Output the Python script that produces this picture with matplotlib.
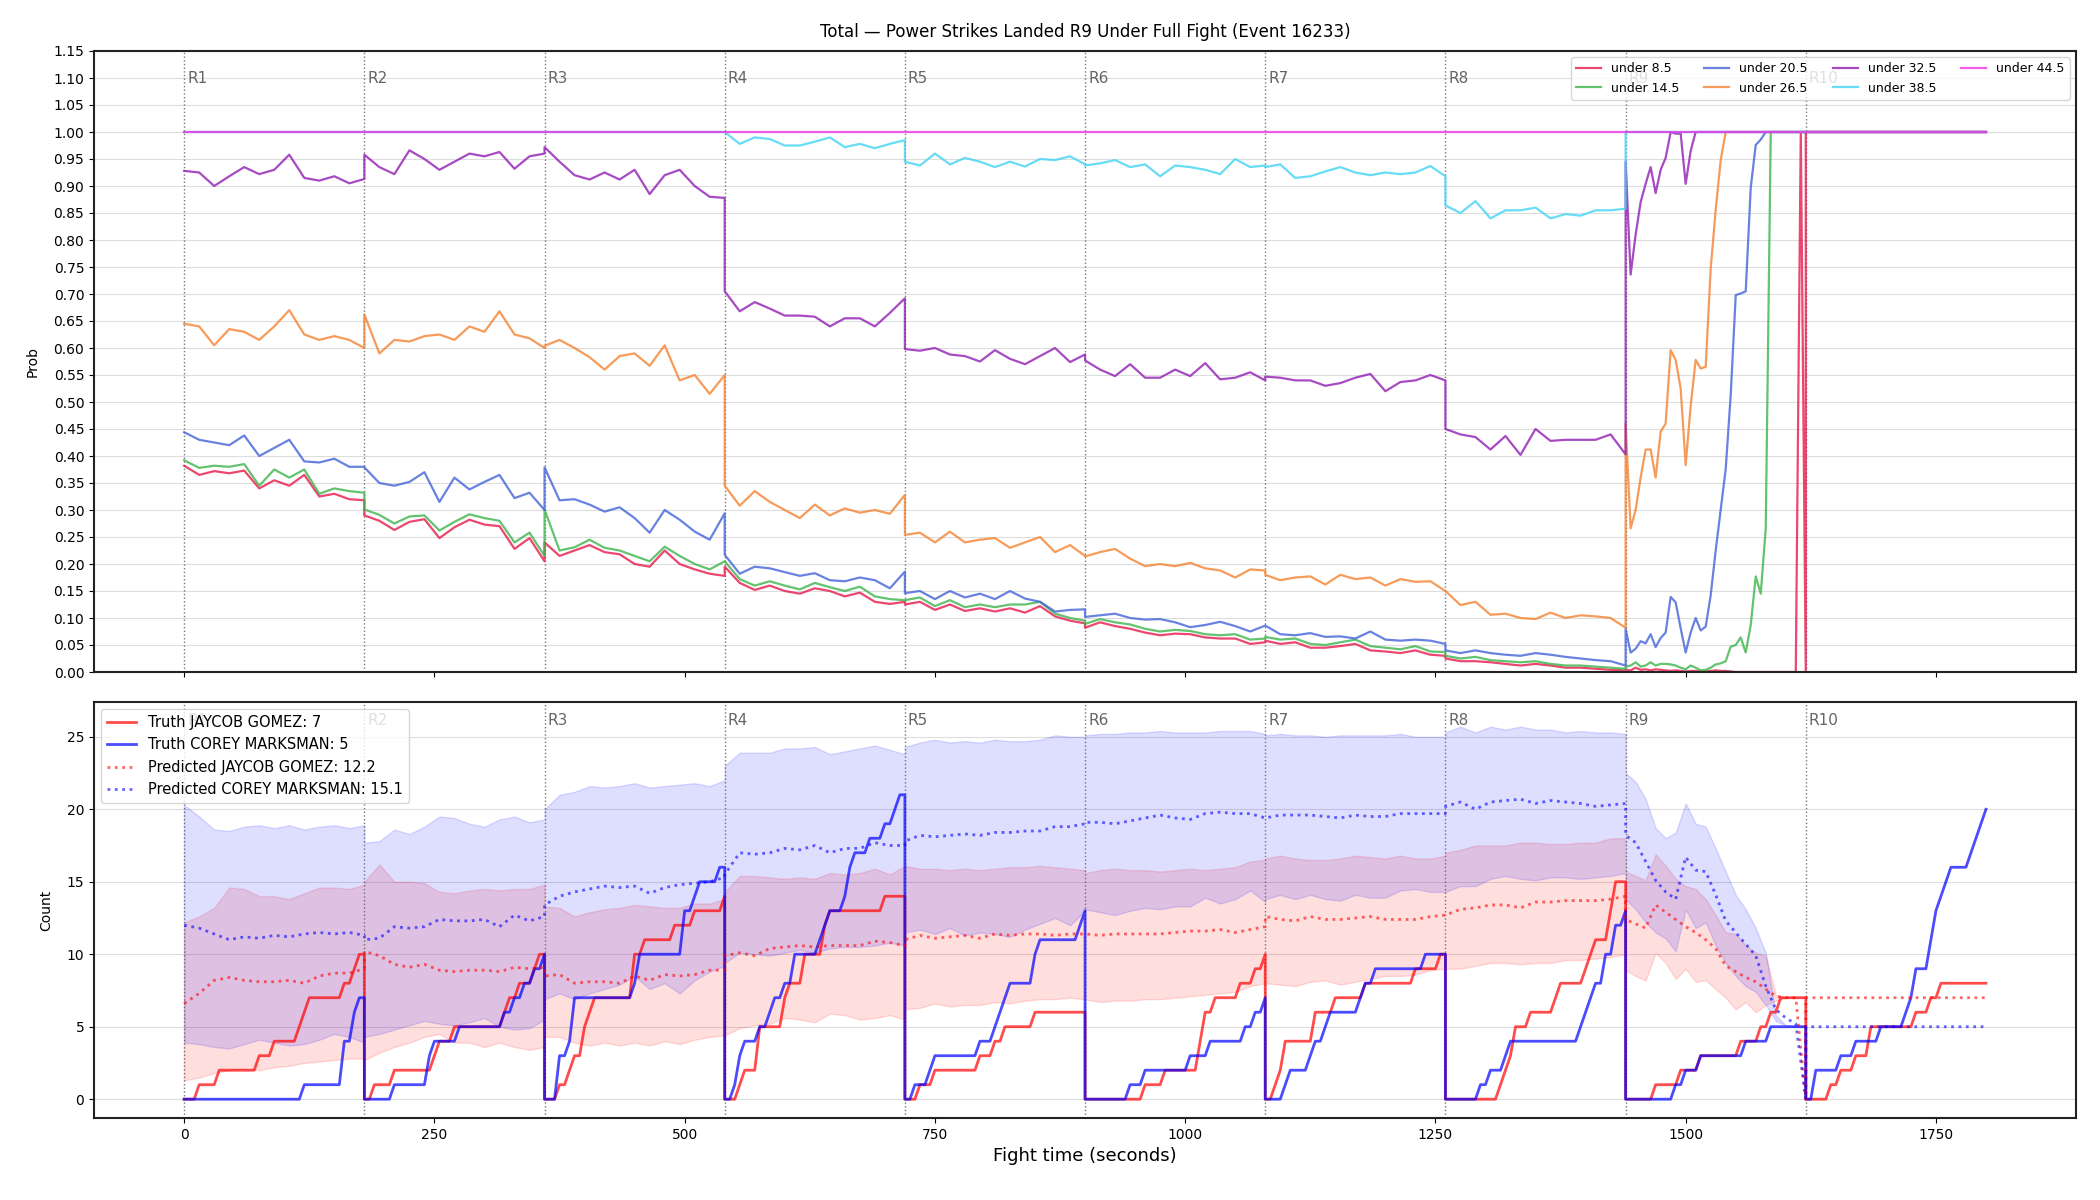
import matplotlib
matplotlib.use("Agg")
import matplotlib.pyplot as plt
import matplotlib.transforms as mtransforms
import numpy as np

## 数据
ROUND_LEN = 180
round_starts = [0, 180, 360, 540, 720, 900, 1080, 1260, 1440, 1620]
round_names = ["R1", "R2", "R3", "R4", "R5", "R6", "R7", "R8", "R9", "R10"]

title = "Total — Power Strikes Landed R9 Under Full Fight (Event 16233)"

# 上图：各阈值概率，每回合一个列表（样本在回合内均匀分布）
line_names = ["under 8.5", "under 14.5", "under 20.5", "under 26.5",
              "under 32.5", "under 38.5", "under 44.5"]
line_colors = ["#e6194b", "#3cb44b", "#4363d8", "#f58231",
               "#911eb4", "#42d4f4", "#f032e6"]

p_085 = [
    [0.382, 0.365, 0.372, 0.368, 0.373, 0.340, 0.355, 0.345, 0.365, 0.325, 0.330, 0.320, 0.318],
    [0.290, 0.280, 0.263, 0.278, 0.283, 0.248, 0.268, 0.282, 0.273, 0.270, 0.228, 0.248, 0.205],
    [0.240, 0.215, 0.225, 0.235, 0.222, 0.218, 0.200, 0.195, 0.225, 0.200, 0.190, 0.182, 0.178],
    [0.195, 0.165, 0.152, 0.160, 0.150, 0.145, 0.155, 0.150, 0.140, 0.147, 0.130, 0.126, 0.130],
    [0.125, 0.130, 0.115, 0.125, 0.113, 0.118, 0.112, 0.118, 0.110, 0.122, 0.103, 0.095, 0.090],
    [0.082, 0.092, 0.085, 0.080, 0.073, 0.068, 0.071, 0.070, 0.064, 0.062, 0.062, 0.052, 0.055],
    [0.058, 0.052, 0.055, 0.045, 0.045, 0.048, 0.052, 0.040, 0.038, 0.035, 0.040, 0.032, 0.030],
    [0.025, 0.020, 0.020, 0.018, 0.015, 0.012, 0.015, 0.012, 0.008, 0.008, 0.006, 0.004, 0.003],
    [0.004, 0.003, 0.008, 0.004, 0.005, 0.003, 0.005, 0.004, 0.003, 0.002, 0.003, 0.002, 0.001,
     0.002, 0.002, 0.001, 0.001, 0.002, 0.003, 0.002, 0.002, 0.001, 0.0, 0.0, 0.0, 0.0, 0.0,
     0.0, 0.0, 0.0, 0.0, 0.0, 0.0, 0.0, 0.0, 1.0, 0.0],
    [1.0, 1.0],
]
p_145 = [
    [0.392, 0.378, 0.382, 0.380, 0.385, 0.345, 0.375, 0.360, 0.375, 0.330, 0.340, 0.335, 0.332],
    [0.301, 0.291, 0.275, 0.288, 0.290, 0.262, 0.278, 0.292, 0.285, 0.280, 0.240, 0.258, 0.215],
    [0.301, 0.225, 0.231, 0.245, 0.230, 0.225, 0.215, 0.205, 0.232, 0.215, 0.200, 0.190, 0.205],
    [0.205, 0.172, 0.160, 0.168, 0.160, 0.153, 0.165, 0.157, 0.150, 0.158, 0.140, 0.135, 0.133],
    [0.133, 0.138, 0.122, 0.133, 0.120, 0.125, 0.120, 0.125, 0.125, 0.130, 0.108, 0.100, 0.095],
    [0.089, 0.098, 0.092, 0.088, 0.080, 0.075, 0.078, 0.076, 0.070, 0.068, 0.070, 0.060, 0.062],
    [0.065, 0.060, 0.062, 0.052, 0.050, 0.055, 0.060, 0.048, 0.045, 0.042, 0.048, 0.038, 0.037],
    [0.030, 0.025, 0.028, 0.022, 0.020, 0.018, 0.020, 0.015, 0.012, 0.012, 0.010, 0.008, 0.006],
    [0.010, 0.012, 0.018, 0.010, 0.012, 0.018, 0.012, 0.015, 0.015, 0.014, 0.012, 0.008, 0.005,
     0.012, 0.008, 0.003, 0.004, 0.008, 0.014, 0.016, 0.020, 0.047, 0.050, 0.064, 0.036, 0.087,
     0.177, 0.145, 0.266] + [1.0] * 8,
    [1.0, 1.0],
]
p_205 = [
    [0.444, 0.430, 0.425, 0.420, 0.438, 0.400, 0.415, 0.430, 0.390, 0.388, 0.395, 0.380, 0.380],
    [0.379, 0.350, 0.345, 0.352, 0.370, 0.315, 0.360, 0.338, 0.352, 0.365, 0.322, 0.332, 0.300],
    [0.379, 0.318, 0.320, 0.310, 0.297, 0.305, 0.285, 0.258, 0.300, 0.282, 0.260, 0.245, 0.294],
    [0.217, 0.182, 0.195, 0.192, 0.185, 0.178, 0.183, 0.170, 0.168, 0.175, 0.170, 0.155, 0.186],
    [0.146, 0.150, 0.135, 0.150, 0.138, 0.145, 0.135, 0.150, 0.136, 0.130, 0.112, 0.115, 0.116],
    [0.102, 0.105, 0.108, 0.100, 0.097, 0.098, 0.092, 0.083, 0.087, 0.093, 0.085, 0.075, 0.086],
    [0.086, 0.070, 0.068, 0.072, 0.065, 0.066, 0.062, 0.075, 0.060, 0.058, 0.060, 0.058, 0.052],
    [0.040, 0.035, 0.040, 0.035, 0.032, 0.030, 0.035, 0.032, 0.028, 0.025, 0.022, 0.020, 0.012],
    [0.080, 0.036, 0.043, 0.057, 0.053, 0.070, 0.046, 0.063, 0.073, 0.139, 0.129, 0.081, 0.036,
     0.073, 0.100, 0.077, 0.084, 0.142, 0.225, 0.300, 0.376, 0.513, 0.698, 0.701, 0.705, 0.897,
     0.976, 0.986] + [1.0] * 9,
    [1.0, 1.0],
]
p_265 = [
    [0.645, 0.640, 0.605, 0.635, 0.630, 0.615, 0.640, 0.670, 0.625, 0.615, 0.622, 0.615, 0.600],
    [0.662, 0.590, 0.615, 0.612, 0.622, 0.625, 0.615, 0.640, 0.630, 0.668, 0.625, 0.618, 0.600],
    [0.604, 0.615, 0.600, 0.583, 0.560, 0.585, 0.590, 0.567, 0.605, 0.540, 0.550, 0.515, 0.550],
    [0.345, 0.308, 0.335, 0.315, 0.300, 0.285, 0.310, 0.290, 0.303, 0.295, 0.300, 0.293, 0.328],
    [0.254, 0.258, 0.240, 0.260, 0.240, 0.245, 0.248, 0.230, 0.240, 0.250, 0.222, 0.235, 0.215],
    [0.214, 0.222, 0.228, 0.210, 0.196, 0.200, 0.196, 0.202, 0.192, 0.188, 0.175, 0.190, 0.188],
    [0.180, 0.170, 0.175, 0.177, 0.162, 0.180, 0.172, 0.175, 0.160, 0.172, 0.167, 0.168, 0.150],
    [0.150, 0.124, 0.130, 0.106, 0.108, 0.100, 0.098, 0.110, 0.100, 0.105, 0.103, 0.100, 0.082],
    [0.460, 0.266, 0.300, 0.360, 0.412, 0.412, 0.360, 0.445, 0.460, 0.596, 0.578, 0.525, 0.383,
     0.493, 0.578, 0.562, 0.565, 0.747, 0.856, 0.948] + [1.0] * 17,
    [1.0, 1.0],
]
p_325 = [
    [0.928, 0.925, 0.900, 0.918, 0.935, 0.922, 0.930, 0.958, 0.915, 0.910, 0.918, 0.905, 0.913],
    [0.958, 0.935, 0.922, 0.966, 0.950, 0.930, 0.945, 0.960, 0.955, 0.963, 0.932, 0.955, 0.960],
    [0.972, 0.945, 0.920, 0.912, 0.925, 0.912, 0.930, 0.885, 0.920, 0.930, 0.900, 0.880, 0.878],
    [0.705, 0.668, 0.685, 0.673, 0.660, 0.660, 0.658, 0.640, 0.655, 0.655, 0.640, 0.665, 0.692],
    [0.598, 0.595, 0.600, 0.588, 0.585, 0.575, 0.596, 0.580, 0.570, 0.585, 0.600, 0.574, 0.588],
    [0.577, 0.560, 0.548, 0.570, 0.545, 0.545, 0.560, 0.548, 0.572, 0.542, 0.545, 0.555, 0.540],
    [0.547, 0.545, 0.540, 0.540, 0.530, 0.535, 0.545, 0.552, 0.520, 0.537, 0.540, 0.550, 0.540],
    [0.450, 0.440, 0.435, 0.412, 0.437, 0.402, 0.450, 0.428, 0.430, 0.430, 0.430, 0.440, 0.403],
    [0.945, 0.736, 0.810, 0.870, 0.904, 0.935, 0.887, 0.930, 0.952, 1.0, 0.997, 0.997, 0.904,
     0.965] + [1.0] * 23,
    [1.0, 1.0],
]
p_385 = [
    [1.0, 1.0],
    [1.0, 1.0],
    [1.0, 1.0],
    [1.0, 0.978, 0.990, 0.987, 0.975, 0.975, 0.982, 0.990, 0.972, 0.978, 0.970, 0.978, 0.985],
    [0.945, 0.938, 0.960, 0.940, 0.952, 0.945, 0.935, 0.945, 0.936, 0.950, 0.948, 0.955, 0.940],
    [0.938, 0.942, 0.948, 0.935, 0.940, 0.918, 0.938, 0.935, 0.930, 0.922, 0.950, 0.935, 0.938],
    [0.935, 0.940, 0.915, 0.918, 0.927, 0.935, 0.925, 0.920, 0.925, 0.922, 0.925, 0.937, 0.918],
    [0.864, 0.850, 0.872, 0.840, 0.855, 0.855, 0.860, 0.840, 0.848, 0.845, 0.855, 0.855, 0.858],
    [1.0, 1.0],
    [1.0, 1.0],
]
p_445 = [[1.0, 1.0]] * 10

prob_series = [p_085, p_145, p_205, p_265, p_325, p_385, p_445]

# 下图：真实计数（每回合内每次命中的秒数）
fighter_names = ["JAYCOB GOMEZ", "COREY MARKSMAN"]
truth_final = [7, 5]
pred_final = [12.2, 15.1]

hits_red = [
    [12, 33, 72, 88, 115, 120, 124, 160, 168, 172],
    [8, 27, 66, 74, 88, 138, 145, 155, 168, 172],
    [15, 25, 29, 36, 40, 44, 49, 86, 88, 90, 98, 130, 149, 178],
    [12, 20, 31, 33, 35, 56, 60, 64, 77, 80, 96, 98, 101, 158],
    [15, 28, 73, 88, 97, 128],
    [56, 78, 111, 114, 117, 120, 130, 153, 170, 178],
    [9, 14, 17, 20, 48, 50, 69, 99, 148, 175],
    [55, 58, 62, 66, 70, 84, 110, 115, 139, 142, 148, 162, 164, 166, 170],
    [28, 53, 73, 113, 133, 143, 155],
    [22, 32, 48, 63, 65, 107, 122, 133],
]
hits_blue = [
    [120, 157, 158, 160, 166, 170, 174],
    [28, 62, 65, 68, 94, 140, 148, 160, 168, 178],
    [11, 13, 15, 25, 27, 28, 29, 88, 91, 94, 138, 139, 140, 147, 153, 174],
    [8, 11, 15, 19, 34, 43, 46, 58, 66, 68, 94, 96, 105, 120, 122, 125, 129, 144, 158, 170, 172],
    [6, 21, 29, 71, 88, 93, 98, 104, 128, 130, 135, 175, 178],
    [43, 56, 102, 123, 160, 170, 178],
    [19, 24, 44, 49, 58, 64, 95, 100, 109, 160],
    [33, 45, 60, 64, 132, 138, 143, 149, 156, 160, 166, 170, 178],
    [49, 58, 75, 120, 145],
    [7, 9, 33, 47, 73, 98, 103, 106, 108, 123, 124, 128, 130, 133, 138, 142, 164, 169, 174, 178],
]

# 预测值
pred_red = [
    [6.6, 7.3, 8.2, 8.4, 8.2, 8.1, 8.1, 8.2, 8.0, 8.5, 8.7, 8.7, 9.0],
    [10.2, 9.9, 9.3, 9.1, 9.3, 8.9, 8.8, 8.9, 8.9, 8.8, 9.1, 9.0, 9.1],
    [8.5, 8.6, 8.0, 8.1, 8.1, 8.0, 8.5, 8.2, 8.6, 8.5, 8.6, 8.9, 8.9],
    [9.9, 10.1, 9.9, 10.4, 10.5, 10.6, 10.5, 10.6, 10.6, 10.6, 10.9, 10.8, 10.6],
    [11.0, 11.3, 11.1, 11.2, 11.3, 11.1, 11.4, 11.3, 11.4, 11.4, 11.3, 11.4, 11.4],
    [11.4, 11.3, 11.4, 11.4, 11.4, 11.4, 11.5, 11.6, 11.6, 11.7, 11.5, 11.7, 11.9],
    [12.6, 12.4, 12.3, 12.6, 12.4, 12.4, 12.5, 12.6, 12.4, 12.4, 12.4, 12.6, 12.7],
    [12.7, 13.1, 13.2, 13.4, 13.4, 13.2, 13.6, 13.6, 13.7, 13.7, 13.7, 13.8, 14.0],
    [12.4, 12.1, 11.8, 13.4, 12.9, 12.4, 11.9, 11.5, 11.0, 10.4, 9.2, 8.8, 8.4, 8.1, 7.6,
     7.1, 7.0, 7.0, 0.0],
    [7.0, 7.0],
]
pred_blue = [
    [12.0, 11.8, 11.4, 11.0, 11.2, 11.1, 11.3, 11.2, 11.4, 11.5, 11.4, 11.5, 11.3],
    [11.0, 11.1, 11.9, 11.8, 11.9, 12.4, 12.3, 12.3, 12.4, 11.9, 12.7, 12.3, 12.6],
    [13.4, 14.0, 14.3, 14.5, 14.7, 14.6, 14.7, 14.2, 14.6, 14.8, 14.9, 15.0, 15.3],
    [15.5, 17.0, 16.9, 17.0, 17.3, 17.2, 17.5, 17.0, 17.3, 17.3, 17.7, 17.5, 17.5],
    [17.8, 18.2, 18.1, 18.2, 18.3, 18.2, 18.4, 18.4, 18.5, 18.5, 18.8, 18.8, 19.0],
    [19.1, 19.1, 19.0, 19.2, 19.4, 19.6, 19.4, 19.3, 19.7, 19.8, 19.7, 19.7, 19.4],
    [19.4, 19.6, 19.6, 19.6, 19.5, 19.4, 19.6, 19.5, 19.5, 19.7, 19.7, 19.7, 19.7],
    [20.2, 20.5, 20.0, 20.5, 20.6, 20.7, 20.4, 20.6, 20.5, 20.4, 20.2, 20.3, 20.4],
    [18.2, 17.7, 16.4, 15.1, 14.3, 13.8, 16.7, 15.8, 15.7, 14.1, 12.3, 11.5, 10.7, 9.9, 7.8,
     6.2, 5.6, 5.2, 0.0],
    [5.0, 5.0],
]

# 区间带（R1-R9）
red_hi = [
    [12.2, 12.6, 13.2, 14.6, 14.5, 14.0, 14.0, 13.8, 14.2, 14.6, 14.6, 14.5, 14.8],
    [15.0, 16.2, 15.0, 15.0, 14.9, 14.3, 14.2, 14.4, 14.5, 14.4, 14.5, 14.5, 14.8],
    [13.3, 13.2, 12.6, 12.9, 13.1, 13.2, 13.4, 13.3, 13.2, 13.2, 13.5, 13.5, 13.8],
    [14.3, 15.4, 15.4, 15.3, 15.2, 15.3, 15.2, 15.6, 15.5, 15.6, 15.9, 15.5, 16.1],
    [16.1, 15.9, 15.9, 15.8, 15.9, 15.8, 15.9, 16.0, 16.0, 16.1, 16.0, 15.9, 15.8],
    [15.6, 15.8, 15.9, 15.8, 15.8, 15.7, 15.8, 15.9, 15.8, 15.9, 16.0, 16.4, 16.5],
    [16.6, 16.8, 16.6, 16.5, 16.5, 16.6, 16.8, 16.7, 16.6, 16.8, 16.6, 16.6, 16.8],
    [17.0, 17.2, 17.5, 17.5, 17.5, 17.7, 17.7, 17.6, 17.6, 17.7, 17.7, 18.0, 18.0],
    [15.7, 15.4, 15.1, 16.9, 16.1, 15.2, 14.7, 14.5, 13.8, 12.7, 11.5, 11.4, 10.6, 10.1, 9.9,
     7.2, 7.0, 7.0, 7.0],
]
red_lo = [
    [1.3, 1.5, 1.8, 2.0, 2.1, 2.0, 2.2, 2.3, 2.5, 2.6, 2.7, 2.8, 2.8],
    [2.7, 3.2, 3.6, 3.9, 4.3, 4.5, 3.9, 3.9, 3.6, 3.9, 3.6, 3.4, 3.6],
    [4.3, 4.3, 3.9, 3.7, 3.9, 3.7, 3.9, 3.7, 4.0, 3.8, 4.1, 4.3, 4.4],
    [4.4, 4.9, 5.1, 5.2, 5.6, 5.5, 5.3, 5.9, 5.8, 5.5, 5.6, 5.8, 5.5],
    [6.2, 6.3, 6.6, 6.4, 6.5, 6.5, 6.7, 6.6, 6.8, 6.9, 6.9, 7.0, 6.9],
    [6.9, 6.7, 6.8, 6.8, 6.9, 6.9, 7.0, 7.1, 7.2, 7.3, 7.4, 7.8, 8.0],
    [8.0, 7.9, 7.8, 8.1, 8.2, 7.9, 8.1, 8.3, 8.5, 8.5, 8.6, 8.9, 9.0],
    [9.0, 9.0, 9.2, 9.4, 9.4, 9.3, 9.4, 9.4, 9.6, 9.6, 9.7, 9.8, 10.0],
    [8.9, 8.5, 8.2, 10.1, 9.4, 8.3, 9.0, 8.1, 8.2, 7.6, 7.0, 6.2, 6.7, 6.0, 6.5, 6.8, 7.0,
     7.0, 7.0],
]
blue_hi = [
    [20.3, 19.5, 18.6, 18.5, 18.8, 18.9, 18.7, 18.9, 18.6, 18.8, 18.9, 18.7, 18.9],
    [17.7, 17.8, 18.6, 18.3, 18.8, 19.5, 19.4, 19.0, 18.8, 19.3, 19.5, 19.1, 19.3],
    [20.0, 21.0, 21.2, 21.6, 21.5, 21.6, 21.8, 21.5, 21.6, 21.7, 21.8, 21.6, 22.0],
    [23.0, 23.9, 23.9, 23.9, 24.2, 24.2, 24.3, 23.8, 24.0, 24.2, 24.4, 24.1, 23.8],
    [24.3, 24.6, 24.8, 24.6, 24.7, 24.6, 24.8, 24.7, 24.7, 24.8, 25.1, 25.0, 25.0],
    [25.1, 25.2, 25.2, 25.3, 25.3, 25.4, 25.3, 25.3, 25.3, 25.4, 25.4, 25.4, 25.2],
    [25.1, 25.2, 25.1, 25.1, 25.0, 25.1, 25.1, 25.1, 25.1, 25.2, 25.0, 25.0, 25.0],
    [25.3, 25.7, 25.3, 25.7, 25.5, 25.7, 25.5, 25.5, 25.3, 25.4, 25.3, 25.3, 25.2],
    [22.5, 21.9, 20.7, 18.7, 18.0, 18.4, 20.4, 19.0, 18.8, 17.3, 15.7, 14.1, 13.1, 11.8, 10.1,
     5.8, 5.1, 5.0, 5.0],
]
blue_lo = [
    [3.9, 3.8, 3.6, 3.5, 3.8, 4.1, 3.9, 3.7, 3.8, 4.1, 4.5, 4.3, 3.9],
    [4.3, 4.5, 4.8, 5.1, 5.4, 5.2, 5.1, 5.3, 5.6, 5.0, 4.8, 4.9, 5.5],
    [6.9, 7.3, 6.9, 7.3, 7.6, 7.9, 8.5, 7.6, 8.0, 7.3, 8.2, 8.8, 9.2],
    [9.4, 10.1, 10.0, 9.9, 10.1, 10.3, 10.1, 10.4, 10.5, 10.5, 10.6, 10.8, 10.6],
    [11.5, 11.7, 11.4, 11.8, 11.3, 11.5, 11.4, 11.2, 11.7, 12.1, 12.5, 12.0, 13.0],
    [13.1, 12.9, 12.7, 13.0, 13.2, 13.1, 13.3, 13.3, 13.9, 13.5, 13.8, 14.4, 13.6],
    [13.8, 14.1, 13.8, 14.1, 13.8, 13.7, 14.1, 13.9, 13.9, 14.4, 14.5, 14.3, 14.3],
    [14.3, 14.7, 14.7, 15.2, 15.4, 15.2, 15.1, 15.3, 15.3, 15.2, 15.3, 15.4, 15.6],
    [13.8, 13.1, 12.2, 11.5, 11.1, 10.2, 13.1, 11.8, 12.2, 10.6, 9.4, 8.5, 7.8, 7.4, 6.5, 5.4,
     5.1, 5.0, 5.0],
]


def stitch(rounds):
    # 每回合的样本均匀铺在回合时间内，回合边界处形成竖直跳变
    xs, ys = [], []
    for start, vals in zip(round_starts, rounds):
        xs.extend(np.linspace(start, start + ROUND_LEN, len(vals)))
        ys.extend(vals)
    return np.array(xs), np.array(ys)


def truth_curve(rounds):
    # 每 5 秒采样一次累计命中数
    xs, ys = [], []
    grid = np.arange(0, ROUND_LEN + 1, 5)
    for start, hits in zip(round_starts, rounds):
        hits = np.array(hits)
        xs.extend(start + grid)
        ys.extend([(hits <= g).sum() for g in grid])
    return np.array(xs), np.array(ys)


fig = plt.figure(figsize=(21, 12), dpi=100)
ax1 = fig.add_axes([0.0448, 0.44, 0.9438, 0.5175])
ax2 = fig.add_axes([0.0448, 0.0683, 0.9438, 0.3467], sharex=ax1)

## 上图 概率
for name, color, rounds in zip(line_names, line_colors, prob_series):
    x, y = stitch(rounds)
    ax1.plot(x, y, color=color, lw=1.6, alpha=0.8, label=name)

ax1.set_ylim(0, 1.15)
ax1.set_yticks(np.arange(0, 1.151, 0.05))
ax1.set_yticklabels(["%.2f" % v for v in np.arange(0, 1.151, 0.05)])
ax1.set_ylabel("Prob", labelpad=10)
ax1.set_title(title, fontsize=12, pad=10)
ax1.legend(loc="upper right", ncol=4, fontsize=9, framealpha=0.8)
plt.setp(ax1.get_xticklabels(), visible=False)

## 下图 计数
red, blue = "#ff0000", "#0000ff"
xb, rh = stitch(red_hi)
_, rl = stitch(red_lo)
_, bh = stitch(blue_hi)
_, bl = stitch(blue_lo)
ax2.fill_between(xb, rl, rh, color=red, alpha=0.13, lw=1)
ax2.fill_between(xb, bl, bh, color=blue, alpha=0.13, lw=1)

xr, yr = truth_curve(hits_red)
xbl, ybl = truth_curve(hits_blue)
ax2.plot(xr, yr, color=red, lw=2, alpha=0.7,
         label="Truth %s: %d" % (fighter_names[0], truth_final[0]))
ax2.plot(xbl, ybl, color=blue, lw=2, alpha=0.7,
         label="Truth %s: %d" % (fighter_names[1], truth_final[1]))

xp, yp = stitch(pred_red)
ax2.plot(xp, yp, color=red, lw=2, ls=":", alpha=0.6,
         label="Predicted %s: %.1f" % (fighter_names[0], pred_final[0]))
xp, yp = stitch(pred_blue)
ax2.plot(xp, yp, color=blue, lw=2, ls=":", alpha=0.6,
         label="Predicted %s: %.1f" % (fighter_names[1], pred_final[1]))

ax2.set_ylim(-1.3, 27.4)
ax2.set_yticks([0, 5, 10, 15, 20, 25])
ax2.set_ylabel("Count", labelpad=10)
ax2.set_xlabel("Fight time (seconds)", fontsize=13)
ax2.legend(loc="upper left", fontsize=10.5, framealpha=0.8)
ax2.set_xlim(-90, 1890)

# 回合分隔线和标签
for ax in (ax1, ax2):
    trans = mtransforms.blended_transform_factory(ax.transData, ax.transAxes)
    for start, name in zip(round_starts, round_names):
        ax.axvline(start, color="#555555", ls=":", lw=1, alpha=0.8, zorder=1)
        ax.text(start + 3, 0.955, name, transform=trans, color="#666666",
                fontsize=11, va="center", ha="left")
    ax.grid(axis="y", color="#dddddd", lw=0.8)
    ax.set_axisbelow(True)
    for sp in ax.spines.values():
        sp.set_color("#222222")
        sp.set_linewidth(1.5)
    ax.tick_params(labelsize=10)

fig.savefig("out.png", dpi=100)
